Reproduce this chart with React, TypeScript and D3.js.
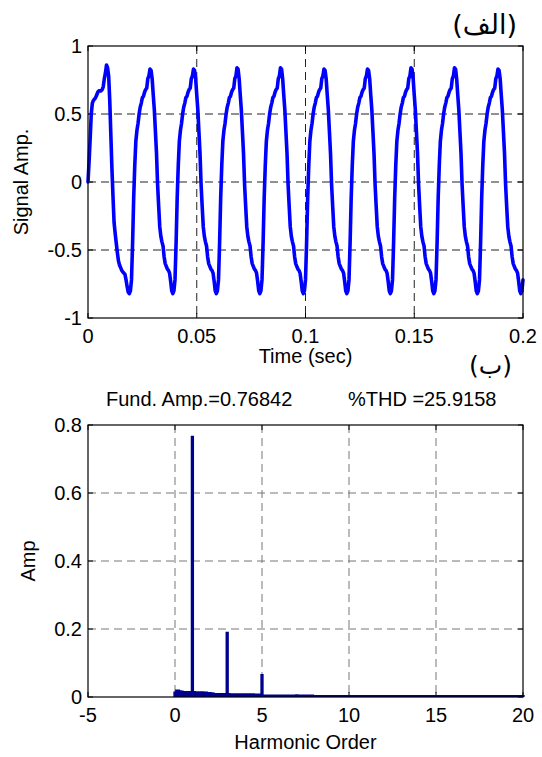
import React from "react";
import * as d3 from "d3";

// ---------- DATA ----------
// Top panel: signal amplitude sampled every 0.0005 s from 0 to 0.2 s
const sampleStep = 0.0005;
const timeTicks = [0, 0.05, 0.1, 0.15, 0.2];
const timeTickLabels = ["0", "0.05", "0.1", "0.15", "0.2"];
const ampTicks = [-1, -0.5, 0, 0.5, 1];
const ampTickLabels = ["-1", "-0.5", "0", "0.5", "1"];

const signalAmp = [
  // cycle 1 (0 - 0.02 s)
  0.00, 0.15, 0.32, 0.50, 0.58, 0.60, 0.61, 0.62, 0.64, 0.66,
  0.67, 0.67, 0.67, 0.68, 0.70, 0.76, 0.80, 0.86, 0.84, 0.78,
  0.60, 0.35, 0.10, -0.11, -0.30, -0.38, -0.45, -0.52, -0.58, -0.61,
  -0.63, -0.65, -0.66, -0.67, -0.68, -0.72, -0.77, -0.81, -0.82, -0.80,
  // cycle 2
  -0.72, -0.45, -0.12, 0.12, 0.30, 0.38, 0.43, 0.50, 0.55, 0.58,
  0.62, 0.63, 0.66, 0.68, 0.69, 0.76, 0.78, 0.83, 0.82, 0.76,
  0.64, 0.53, 0.37, 0.21, -0.02, -0.18, -0.33, -0.40, -0.44, -0.47,
  -0.55, -0.60, -0.62, -0.64, -0.65, -0.67, -0.73, -0.80, -0.82, -0.80,
  // cycle 3
  -0.72, -0.45, -0.12, 0.12, 0.30, 0.38, 0.43, 0.50, 0.55, 0.58,
  0.62, 0.63, 0.66, 0.68, 0.69, 0.76, 0.78, 0.83, 0.82, 0.76,
  0.64, 0.53, 0.37, 0.21, -0.02, -0.18, -0.33, -0.40, -0.44, -0.47,
  -0.55, -0.60, -0.62, -0.64, -0.65, -0.67, -0.73, -0.80, -0.82, -0.80,
  // cycle 4
  -0.72, -0.45, -0.12, 0.12, 0.30, 0.38, 0.43, 0.50, 0.55, 0.58,
  0.62, 0.63, 0.66, 0.68, 0.69, 0.76, 0.78, 0.84, 0.83, 0.76,
  0.64, 0.53, 0.37, 0.21, -0.02, -0.18, -0.33, -0.40, -0.44, -0.47,
  -0.55, -0.60, -0.62, -0.64, -0.65, -0.67, -0.73, -0.80, -0.82, -0.80,
  // cycle 5
  -0.72, -0.45, -0.12, 0.12, 0.30, 0.38, 0.43, 0.50, 0.55, 0.58,
  0.62, 0.63, 0.66, 0.68, 0.69, 0.76, 0.78, 0.84, 0.83, 0.76,
  0.64, 0.53, 0.37, 0.21, -0.02, -0.18, -0.33, -0.40, -0.44, -0.47,
  -0.55, -0.60, -0.62, -0.64, -0.65, -0.67, -0.73, -0.80, -0.82, -0.80,
  // cycle 6
  -0.72, -0.45, -0.12, 0.12, 0.30, 0.38, 0.43, 0.50, 0.55, 0.58,
  0.62, 0.63, 0.66, 0.68, 0.69, 0.76, 0.78, 0.83, 0.82, 0.76,
  0.64, 0.53, 0.37, 0.21, -0.02, -0.18, -0.33, -0.40, -0.44, -0.47,
  -0.55, -0.60, -0.62, -0.64, -0.65, -0.67, -0.73, -0.80, -0.82, -0.80,
  // cycle 7
  -0.72, -0.45, -0.12, 0.12, 0.30, 0.38, 0.43, 0.50, 0.55, 0.58,
  0.62, 0.63, 0.66, 0.68, 0.69, 0.76, 0.78, 0.83, 0.82, 0.76,
  0.64, 0.53, 0.37, 0.21, -0.02, -0.18, -0.33, -0.40, -0.44, -0.47,
  -0.55, -0.60, -0.62, -0.64, -0.65, -0.67, -0.73, -0.80, -0.82, -0.80,
  // cycle 8
  -0.72, -0.45, -0.12, 0.12, 0.30, 0.38, 0.43, 0.50, 0.55, 0.58,
  0.62, 0.63, 0.66, 0.68, 0.69, 0.76, 0.78, 0.84, 0.83, 0.76,
  0.64, 0.53, 0.37, 0.21, -0.02, -0.18, -0.33, -0.40, -0.44, -0.47,
  -0.55, -0.60, -0.62, -0.64, -0.65, -0.67, -0.73, -0.80, -0.82, -0.80,
  // cycle 9
  -0.72, -0.45, -0.12, 0.12, 0.30, 0.38, 0.43, 0.50, 0.55, 0.58,
  0.62, 0.63, 0.66, 0.68, 0.69, 0.76, 0.78, 0.84, 0.83, 0.76,
  0.64, 0.53, 0.37, 0.21, -0.02, -0.18, -0.33, -0.40, -0.44, -0.47,
  -0.55, -0.60, -0.62, -0.64, -0.65, -0.67, -0.73, -0.80, -0.82, -0.80,
  // cycle 10
  -0.72, -0.45, -0.12, 0.12, 0.30, 0.38, 0.43, 0.50, 0.55, 0.58,
  0.62, 0.63, 0.66, 0.68, 0.69, 0.76, 0.78, 0.83, 0.82, 0.76,
  0.64, 0.53, 0.37, 0.21, -0.02, -0.18, -0.33, -0.40, -0.44, -0.47,
  -0.55, -0.60, -0.62, -0.64, -0.65, -0.67, -0.73, -0.80, -0.82, -0.80,
  // t = 0.2 s
  -0.72,
];

// Bottom panel: FFT spectrum, harmonic order 0..20 in steps of 0.1
const harmonicStep = 0.1;
const harmonicTicks = [-5, 0, 5, 10, 15, 20];
const spectrumTicks = [0, 0.2, 0.4, 0.6, 0.8];
const spectrumTickLabels = ["0", "0.2", "0.4", "0.6", "0.8"];

const spectrumAmp = [
  0.016, 0.022, 0.022, 0.020, 0.019, 0.018, 0.018, 0.018, 0.017, 0.018,
  0.7684, 0.018, 0.017, 0.017, 0.017, 0.017, 0.017, 0.016, 0.016, 0.015,
  0.015, 0.014, 0.013, 0.012, 0.012, 0.012, 0.012, 0.012, 0.012, 0.012,
  0.192, 0.012, 0.011, 0.011, 0.011, 0.011, 0.011, 0.011, 0.011, 0.011,
  0.011, 0.011, 0.011, 0.011, 0.011, 0.011, 0.010, 0.010, 0.010, 0.010,
  0.068, 0.007, 0.007, 0.007, 0.007, 0.007, 0.007, 0.007, 0.007, 0.007,
  0.007, 0.007, 0.007, 0.007, 0.007, 0.007, 0.007, 0.007, 0.007, 0.007,
  0.008, 0.007, 0.007, 0.007, 0.007, 0.007, 0.007, 0.007, 0.007, 0.007,
  0.006, 0.006, 0.006, 0.006, 0.006, 0.006, 0.006, 0.006, 0.006, 0.006,
  0.006, 0.006, 0.006, 0.006, 0.006, 0.006, 0.006, 0.006, 0.006, 0.006,
  0.006, 0.006, 0.006, 0.006, 0.006, 0.006, 0.006, 0.006, 0.006, 0.006,
  0.006, 0.006, 0.006, 0.006, 0.006, 0.006, 0.006, 0.006, 0.006, 0.006,
  0.006, 0.006, 0.006, 0.006, 0.006, 0.006, 0.006, 0.006, 0.006, 0.006,
  0.006, 0.006, 0.006, 0.006, 0.006, 0.006, 0.006, 0.006, 0.006, 0.006,
  0.006, 0.006, 0.006, 0.006, 0.006, 0.006, 0.006, 0.006, 0.006, 0.006,
  0.006, 0.006, 0.006, 0.006, 0.006, 0.006, 0.006, 0.006, 0.006, 0.006,
  0.006, 0.006, 0.006, 0.006, 0.006, 0.006, 0.006, 0.006, 0.006, 0.006,
  0.006, 0.006, 0.006, 0.006, 0.006, 0.006, 0.006, 0.006, 0.006, 0.006,
  0.006, 0.006, 0.006, 0.006, 0.006, 0.006, 0.006, 0.006, 0.006, 0.006,
  0.006, 0.006, 0.006, 0.006, 0.006, 0.006, 0.006, 0.006, 0.006, 0.006,
  0.006,
];

const fundAmpText = "Fund. Amp.=0.76842";
const thdText = "%THD =25.9158";

// ---------- LAYOUT ----------
const W = 542;
const H = 757;
const FONT = "'Liberation Sans', Arial, Helvetica, sans-serif";
const AR_FONT = "'DejaVu Sans', 'Liberation Sans', sans-serif";

const L = 88;
const R = 523;
const top1 = 46;
const bot1 = 318;
const top2 = 425;
const bot2 = 697;
const TICK = 5;

export default function App() {
  const x1 = d3.scaleLinear().domain([0, 0.2]).range([L, R]);
  const y1 = d3.scaleLinear().domain([-1, 1]).range([bot1, top1]);
  const x2 = d3.scaleLinear().domain([-5, 20]).range([L, R]);
  const y2 = d3.scaleLinear().domain([0, 0.8]).range([bot2, top2]);

  const line = d3
    .line<number>()
    .x((_, i) => x1(i * sampleStep))
    .y((v) => y1(v));
  const signalPath = line(signalAmp) || "";

  const stemPath = spectrumAmp
    .map((v, i) => {
      const xx = x2(i * harmonicStep);
      return `M${xx},${y2(0)}V${y2(v)}`;
    })
    .join("");

  return (
    <svg
      width={W}
      height={H}
      style={{ position: "absolute", left: 0, top: 0, background: "#fff" }}
      fontFamily={FONT}
    >
      <rect x={0} y={0} width={W} height={H} fill="#fff" />

      {/* ===== Top panel ===== */}
      <g>
        {timeTicks.slice(1, -1).map((t) => (
          <line
            key={"gx1" + t}
            x1={x1(t)}
            x2={x1(t)}
            y1={top1}
            y2={bot1}
            stroke="#222"
            strokeWidth={1}
            strokeDasharray="8,5"
          />
        ))}
        {ampTicks.slice(1, -1).map((v) => (
          <line
            key={"gy1" + v}
            x1={L}
            x2={R}
            y1={y1(v)}
            y2={y1(v)}
            stroke="#222"
            strokeWidth={1}
            strokeDasharray="8,5"
          />
        ))}
        {timeTicks.map((t) => (
          <g key={"tx1" + t}>
            <line x1={x1(t)} x2={x1(t)} y1={bot1} y2={bot1 - TICK} stroke="#000" />
            <line x1={x1(t)} x2={x1(t)} y1={top1} y2={top1 + TICK} stroke="#000" />
          </g>
        ))}
        {ampTicks.map((v) => (
          <g key={"ty1" + v}>
            <line x1={L} x2={L + TICK} y1={y1(v)} y2={y1(v)} stroke="#000" />
            <line x1={R} x2={R - TICK} y1={y1(v)} y2={y1(v)} stroke="#000" />
          </g>
        ))}
        <path
          d={signalPath}
          fill="none"
          stroke="#0000ff"
          strokeWidth={3.6}
          strokeLinejoin="round"
          strokeLinecap="round"
        />
        <rect x={L} y={top1} width={R - L} height={bot1 - top1} fill="none" stroke="#000" strokeWidth={1.2} />
        {timeTicks.map((t, i) => (
          <text key={"lx1" + t} x={x1(t)} y={bot1 + 25} fontSize={20} textAnchor="middle" fill="#000">
            {timeTickLabels[i]}
          </text>
        ))}
        {ampTicks.map((v, i) => (
          <text key={"ly1" + v} x={82} y={y1(v) + 7} fontSize={20} textAnchor="end" fill="#000">
            {ampTickLabels[i]}
          </text>
        ))}
        <text x={(L + R) / 2} y={363} fontSize={20} textAnchor="middle" fill="#000">
          Time (sec)
        </text>
        <text
          transform={`translate(28,${(top1 + bot1) / 2}) rotate(-90)`}
          fontSize={20}
          textAnchor="middle"
          fill="#000"
        >
          Signal Amp.
        </text>
        <text x={517} y={34} fontSize={27} textAnchor="end" fontFamily={AR_FONT} fill="#000">
          (الف)
        </text>
      </g>

      {/* ===== Bottom panel ===== */}
      <g>
        {harmonicTicks.slice(1, -1).map((h) => (
          <line
            key={"gx2" + h}
            x1={x2(h)}
            x2={x2(h)}
            y1={top2}
            y2={bot2}
            stroke="#777"
            strokeWidth={1}
            strokeDasharray="8,5"
          />
        ))}
        {spectrumTicks.slice(1, -1).map((v) => (
          <line
            key={"gy2" + v}
            x1={L}
            x2={R}
            y1={y2(v)}
            y2={y2(v)}
            stroke="#777"
            strokeWidth={1}
            strokeDasharray="8,5"
          />
        ))}
        {harmonicTicks.map((h) => (
          <g key={"tx2" + h}>
            <line x1={x2(h)} x2={x2(h)} y1={bot2} y2={bot2 - TICK} stroke="#000" />
            <line x1={x2(h)} x2={x2(h)} y1={top2} y2={top2 + TICK} stroke="#000" />
          </g>
        ))}
        {spectrumTicks.map((v) => (
          <g key={"ty2" + v}>
            <line x1={L} x2={L + TICK} y1={y2(v)} y2={y2(v)} stroke="#000" />
            <line x1={R} x2={R - TICK} y1={y2(v)} y2={y2(v)} stroke="#000" />
          </g>
        ))}
        <path d={stemPath} fill="none" stroke="#000090" strokeWidth={3.3} />
        <rect x={L} y={top2} width={R - L} height={bot2 - top2} fill="none" stroke="#000" strokeWidth={1.2} />
        {harmonicTicks.map((h) => (
          <text key={"lx2" + h} x={x2(h)} y={bot2 + 25} fontSize={20} textAnchor="middle" fill="#000">
            {String(h)}
          </text>
        ))}
        {spectrumTicks.map((v, i) => (
          <text key={"ly2" + v} x={82} y={y2(v) + 7} fontSize={20} textAnchor="end" fill="#000">
            {spectrumTickLabels[i]}
          </text>
        ))}
        <text x={(L + R) / 2} y={749} fontSize={20} textAnchor="middle" fill="#000">
          Harmonic Order
        </text>
        <text
          transform={`translate(35,${(top2 + bot2) / 2}) rotate(-90)`}
          fontSize={20}
          textAnchor="middle"
          fill="#000"
        >
          Amp
        </text>
        <text x={106} y={406} fontSize={20} fill="#000">
          {fundAmpText}
        </text>
        <text x={348} y={406} fontSize={20} fill="#000">
          {thdText}
        </text>
        <text x={512} y={374} fontSize={25} textAnchor="end" fontFamily={AR_FONT} fill="#000">
          (ب)
        </text>
      </g>
    </svg>
  );
}
